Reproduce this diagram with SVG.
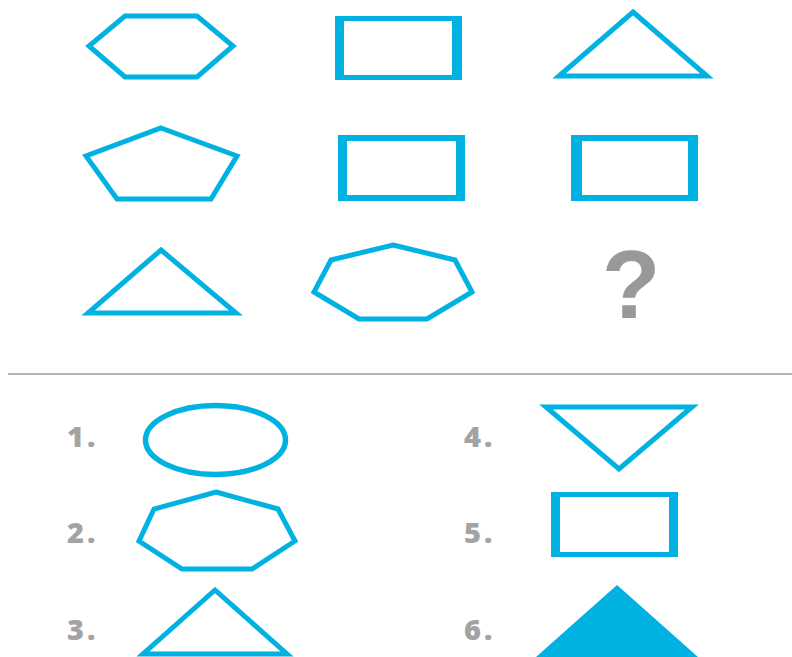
<svg xmlns="http://www.w3.org/2000/svg" width="792" height="657" viewBox="0 0 792 657">
<style>
.s{fill:none;stroke:#00b2e1;stroke-width:5;stroke-linejoin:miter}
.f{fill:#00b2e1;fill-rule:evenodd}
.n{font-family:"Open Sans","Liberation Sans",sans-serif;font-weight:800;font-size:29px;fill:#a3a3a3;letter-spacing:3px}
</style>
<rect width="792" height="657" fill="#ffffff"/>
<g id="r1c1"><polygon class="s" points="125,16 197,16 233,46 197,77 125,77 89,46"/></g>
<g id="r1c2"><path class="f" d="M335,16H462V80H335Z M344,21V75H452V21Z"/></g>
<g id="r1c3"><polygon class="s" points="633,12 707,76 559,76"/></g>
<g id="r2c1"><polygon class="s" points="161,128 237,156 211,199 117,199 86,156"/></g>
<g id="r2c2"><path class="f" d="M338,135H465V201H338Z M347,141V195H456V141Z"/></g>
<g id="r2c3"><path class="f" d="M571,135H698V201H571Z M582,141V195H688V141Z"/></g>
<g id="r3c1"><polygon class="s" points="161,250 236,313 88,313"/></g>
<g id="r3c2"><polygon class="s" points="393,245 455,260 472,292 427,319 359,319 314,292 331,260"/></g>
<g id="r3c3"><text x="631" y="318" text-anchor="middle" font-family="Liberation Sans, Arial, sans-serif" font-weight="bold" font-size="96" fill="#999999">?</text></g>
<g id="separator"><line x1="8" y1="374" x2="792" y2="374" stroke="#9a9a9a" stroke-width="1.5"/></g>
<g id="opt1"><text class="n" x="67" y="447">1.</text><ellipse cx="215.5" cy="440" rx="70" ry="34.5" fill="none" stroke="#00b2e1" stroke-width="5.5"/></g>
<g id="opt2"><text class="n" x="67" y="543">2.</text><polygon class="s" points="216,492 278,509 295,541 252,569 182,569 139,541 154,509"/></g>
<g id="opt3"><text class="n" x="67" y="640">3.</text><polygon class="s" points="215,590 287,654 143,654"/></g>
<g id="opt4"><text class="n" x="464" y="447">4.</text><polygon class="s" points="546,407 692,407 619,469"/></g>
<g id="opt5"><text class="n" x="464" y="543">5.</text><path class="f" d="M551,492H678V557H551Z M560,497V552H669V497Z"/></g>
<g id="opt6"><text class="n" x="464" y="640">6.</text><polygon fill="#00b2e1" points="617,585 698,657 536,657"/></g>
<g id="connectors"></g>
</svg>
